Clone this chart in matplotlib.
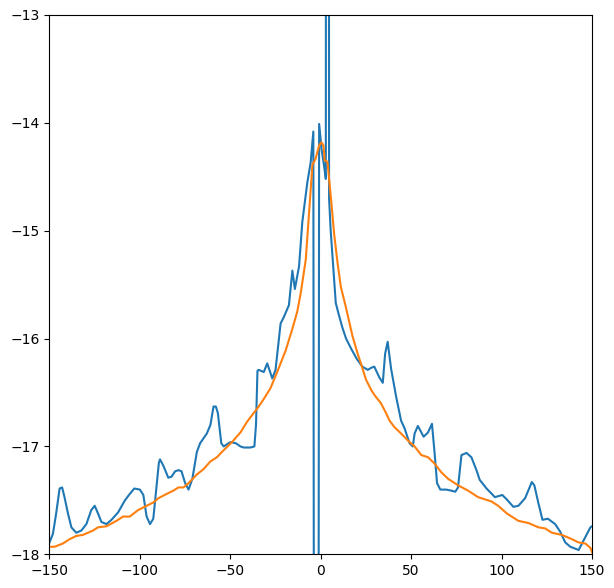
import numpy as np
import matplotlib
matplotlib.use('Agg')
import matplotlib.pyplot as plt

# blue (noisy) series
blue_x = [-150, -148.1, -146.3, -144.4, -143, -141.7, -139.8, -137.9, -135.2, -132.4,
          -129.6, -126.9, -125, -123.2, -121.3, -118.5, -115.7, -112, -108.3, -105.6,
          -103.1, -100, -98.1, -96.3, -94.4, -92.6, -91, -89.5, -88.9, -87,
          -84.3, -82.5, -80.5, -78.7, -77, -75, -73.1, -71, -68.5, -66.7,
          -63, -61, -59.3, -58, -56.9, -55, -53.7, -50, -47, -44.4,
          -42.6, -38.9, -36.7, -35.8, -35, -34.3, -31.5, -29.6, -26.8, -25,
          -22.2, -20.4, -17.6, -15.7, -14.3, -12, -10.2, -7.4, -5.6, -4.1,
          -2.5, -0.9, 0.5, 2.0, 2.8, 3.7, 4.6, 5.5, 8.3, 10,
          12, 14, 17, 20, 23, 26, 28, 29.6, 32.4, 34.3,
          35.6, 37, 38.9, 41.7, 44.4, 46.3, 49.1, 50.9, 51.9, 53.7,
          56.9, 59.3, 61.5, 63, 64.3, 66.1, 69.4, 72.2, 74.4, 75.9,
          77.8, 80.6, 83.3, 86.1, 87.9, 91.7, 96.3, 100.4, 102.8, 106.5,
          109.3, 113, 116.7, 118.1, 120.4, 122.6, 125.6, 129.6, 132.4, 135.2,
          138, 142.6, 146.3, 149.1, 150]
blue_y = [-17.89, -17.81, -17.62, -17.39, -17.38, -17.47, -17.62, -17.75, -17.80, -17.78,
          -17.72, -17.59, -17.55, -17.62, -17.70, -17.72, -17.68, -17.61, -17.50, -17.44,
          -17.39, -17.40, -17.45, -17.65, -17.72, -17.67, -17.40, -17.15, -17.12, -17.18,
          -17.29, -17.28, -17.23, -17.22, -17.23, -17.34, -17.40, -17.30, -17.05, -16.97,
          -16.88, -16.80, -16.63, -16.63, -16.69, -16.97, -17.00, -16.96, -16.97, -17.00,
          -17.01, -17.01, -17.00, -16.80, -16.30, -16.29, -16.31, -16.23, -16.37, -16.29,
          -15.86, -15.80, -15.69, -15.37, -15.54, -15.33, -14.92, -14.55, -14.37, -14.08,
          -40.0, -14.01, -14.25, -14.42, -14.52, 20.0, -14.70, -15.00, -15.67, -15.78,
          -15.90, -16.00, -16.10, -16.19, -16.26, -16.29, -16.27, -16.26, -16.36, -16.41,
          -16.14, -16.03, -16.28, -16.54, -16.76, -16.83, -16.97, -17.00, -16.88, -16.81,
          -16.91, -16.87, -16.79, -17.07, -17.34, -17.40, -17.40, -17.41, -17.42, -17.38,
          -17.08, -17.06, -17.10, -17.22, -17.31, -17.39, -17.47, -17.45, -17.49, -17.56,
          -17.55, -17.48, -17.33, -17.36, -17.53, -17.68, -17.67, -17.72, -17.79, -17.89,
          -17.93, -17.96, -17.84, -17.75, -17.74]

# orange (smooth) series
orange_x = [-150, -147.2, -142.6, -138.9, -135.2, -131.5, -126, -123.2, -118.5, -113,
            -109.3, -105.6, -101, -96.3, -92.6, -89.8, -85.2, -81.5, -78.7, -75.9,
            -73.1, -68.5, -64.8, -61.1, -57.4, -54.6, -49.1, -44.4, -40.7, -38,
            -34.3, -31.5, -27.8, -24.1, -19.4, -15.7, -13, -11.1, -8.3, -6.5,
            -4.6, -2.8, -0.9, 0.4, 1.5, 2.2, 3.7, 5.6, 7.4, 9.3,
            11.1, 13.9, 17.6, 20.4, 22, 25, 28, 30, 33.3, 36.1,
            38, 40.7, 44.4, 49.1, 51.9, 55.6, 59.3, 63, 66.7, 70.4,
            75.9, 81.5, 87, 94.4, 98.1, 102.8, 109.3, 114.8, 120.4, 124.1,
            127.8, 133.3, 138.9, 142.6, 146.3, 149.1, 150]
orange_y = [-17.93, -17.93, -17.90, -17.86, -17.83, -17.82, -17.78, -17.75, -17.74, -17.69,
            -17.65, -17.65, -17.59, -17.55, -17.52, -17.48, -17.44, -17.41, -17.38, -17.38,
            -17.34, -17.26, -17.21, -17.14, -17.10, -17.05, -16.96, -16.87, -16.77, -16.71,
            -16.63, -16.56, -16.46, -16.31, -16.11, -15.91, -15.75, -15.58, -15.27, -14.84,
            -14.39, -14.33, -14.21, -14.18, -14.21, -14.35, -14.36, -14.69, -15.03, -15.30,
            -15.52, -15.71, -15.98, -16.14, -16.22, -16.38, -16.48, -16.53, -16.60, -16.69,
            -16.76, -16.82, -16.88, -16.96, -17.00, -17.08, -17.10, -17.16, -17.24, -17.30,
            -17.36, -17.41, -17.47, -17.51, -17.55, -17.62, -17.69, -17.71, -17.75, -17.76,
            -17.80, -17.82, -17.86, -17.89, -17.90, -17.94, -17.98]

fig = plt.figure(figsize=(6.14, 5.88), dpi=100)
ax = fig.add_axes([0.0806, 0.0573, 0.8836, 0.9172])
ax.plot(blue_x, blue_y)
ax.plot(orange_x, orange_y)
ax.set_xlim(-150, 150)
ax.set_ylim(-18, -13)

fig.savefig('out.png', dpi=100)
